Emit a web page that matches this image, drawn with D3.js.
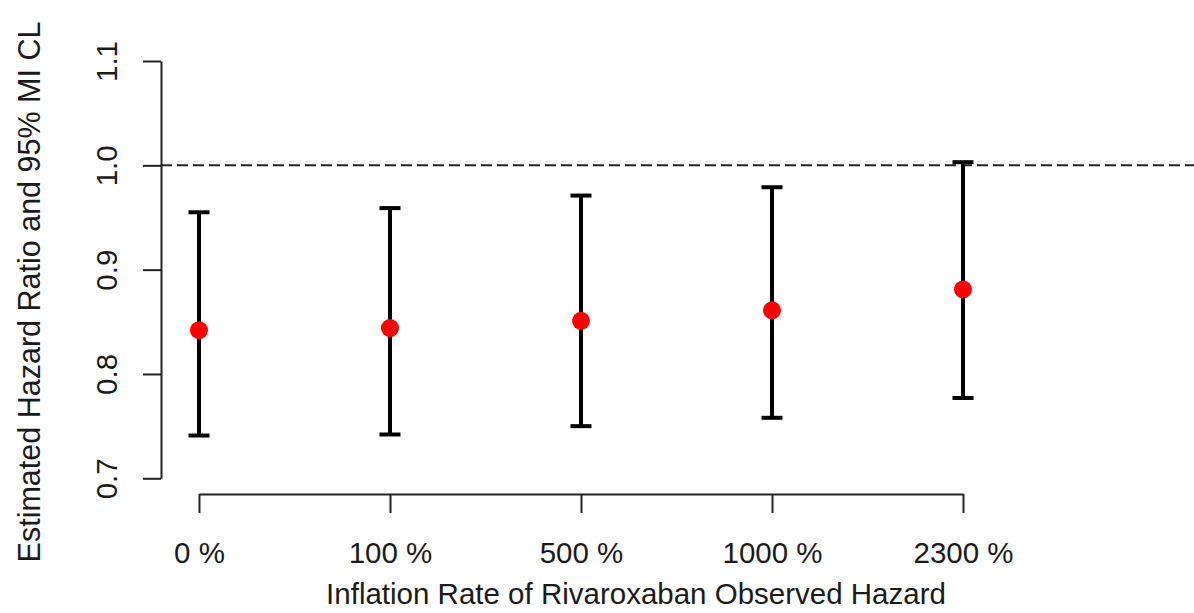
<!DOCTYPE html>
<html>
<head>
<meta charset="utf-8">
<script src="https://cdn.jsdelivr.net/npm/d3@7"></script>
<style>
  body { margin: 0; background: #fff; }
  svg text { font-family: "Liberation Sans", Arial, sans-serif; fill: #1a1a1a; }
</style>
</head>
<body>
<div id="vis"></div>
<script>
// values
var rateLabels = ["0 %", "100 %", "500 %", "1000 %", "2300 %"];
var estimate   = [0.842, 0.844, 0.851, 0.861, 0.881];
var lowerCL    = [0.741, 0.742, 0.750, 0.758, 0.777];
var upperCL    = [0.955, 0.959, 0.971, 0.979, 1.003];
var yTicks     = [0.7, 0.8, 0.9, 1.0, 1.1];
var refLine    = 1.0;

var width = 1194, height = 613;
var fontSize = "29.5px";

var svg = d3.select("#vis").append("svg")
  .attr("width", width)
  .attr("height", height);

var x = d3.scalePoint()
  .domain(rateLabels)
  .range([199, 963])
  .padding(0);

var y = d3.scaleLinear()
  .domain([0.7, 1.1])
  .range([478.3, 61]);

var points = rateLabels.map(function (d, i) {
  return {label: d, est: estimate[i], lo: lowerCL[i], hi: upperCL[i]};
});

// y axis
var yAxis = d3.axisLeft(y)
  .tickValues(yTicks)
  .tickFormat(d3.format(".1f"))
  .tickSize(18)
  .tickSizeOuter(0);

var yg = svg.append("g")
  .attr("transform", "translate(161,0)")
  .call(yAxis);

yg.select(".domain").attr("stroke", "#222").attr("stroke-width", 2);
yg.selectAll(".tick line").attr("stroke", "#222").attr("stroke-width", 2);
yg.selectAll(".tick text")
  .attr("transform", "rotate(-90)")
  .attr("x", 0)
  .attr("y", -44)
  .attr("dy", 0)
  .attr("text-anchor", "middle")
  .attr("fill", "#1a1a1a")
  .style("font-size", fontSize);

// x axis
var xAxis = d3.axisBottom(x)
  .tickSize(19)
  .tickSizeOuter(0);

var xg = svg.append("g")
  .attr("transform", "translate(0,494)")
  .call(xAxis);

xg.select(".domain").attr("stroke", "#222").attr("stroke-width", 2);
xg.selectAll(".tick line").attr("stroke", "#222").attr("stroke-width", 2);
xg.selectAll(".tick text")
  .attr("y", 69)
  .attr("dy", 0)
  .attr("fill", "#1a1a1a")
  .style("font-size", fontSize);

// reference line
svg.append("line")
  .attr("x1", 161)
  .attr("x2", width)
  .attr("y1", y(refLine))
  .attr("y2", y(refLine))
  .attr("stroke", "#222")
  .attr("stroke-width", 2)
  .attr("stroke-dasharray", "11,5");

// error bars
var bars = svg.append("g").selectAll("g")
  .data(points)
  .enter().append("g");

bars.append("line")
  .attr("x1", function (d) { return x(d.label); })
  .attr("x2", function (d) { return x(d.label); })
  .attr("y1", function (d) { return y(d.lo); })
  .attr("y2", function (d) { return y(d.hi); })
  .attr("stroke", "#000")
  .attr("stroke-width", 4);

["lo", "hi"].forEach(function (k) {
  bars.append("line")
    .attr("x1", function (d) { return x(d.label) - 10.5; })
    .attr("x2", function (d) { return x(d.label) + 10.5; })
    .attr("y1", function (d) { return y(d[k]); })
    .attr("y2", function (d) { return y(d[k]); })
    .attr("stroke", "#000")
    .attr("stroke-width", 4);
});

bars.append("circle")
  .attr("cx", function (d) { return x(d.label); })
  .attr("cy", function (d) { return y(d.est); })
  .attr("r", 9)
  .attr("fill", "#ff0000");

// axis titles
svg.append("text")
  .attr("x", 636)
  .attr("y", 604)
  .attr("text-anchor", "middle")
  .style("font-size", fontSize)
  .text("Inflation Rate of Rivaroxaban Observed Hazard");

svg.append("text")
  .attr("transform", "translate(40,292) rotate(-90)")
  .attr("text-anchor", "middle")
  .style("font-size", "30.5px")
  .text("Estimated Hazard Ratio and 95% MI CL");
</script>
</body>
</html>
